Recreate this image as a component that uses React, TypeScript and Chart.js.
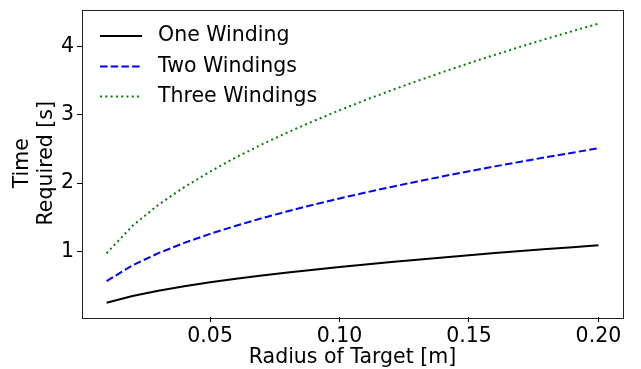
import React, { useEffect, useRef } from "react";
import { Chart, registerables } from "chart.js";

Chart.register(...registerables);

const radii = [0.01, 0.02, 0.03, 0.04, 0.05, 0.06, 0.07, 0.08, 0.09, 0.10, 0.11, 0.12, 0.13, 0.14, 0.15, 0.16, 0.17, 0.18, 0.19, 0.20];
const oneWinding = [0.243, 0.344, 0.421, 0.486, 0.543, 0.595, 0.643, 0.687, 0.729, 0.768, 0.806, 0.842, 0.876, 0.909, 0.941, 0.972, 1.002, 1.031, 1.059, 1.087];
const twoWindings = [0.561, 0.793, 0.971, 1.122, 1.254, 1.374, 1.484, 1.587, 1.683, 1.774, 1.860, 1.943, 2.022, 2.099, 2.172, 2.244, 2.313, 2.380, 2.445, 2.509];
const threeWindings = [0.970, 1.372, 1.680, 1.940, 2.169, 2.376, 2.566, 2.744, 2.910, 3.067, 3.217, 3.360, 3.497, 3.629, 3.757, 3.880, 4.000, 4.116, 4.228, 4.338];
const seriesLabels = ["One Winding", "Two Windings", "Three Windings"];
const xTicks = [0.05, 0.10, 0.15, 0.20];
const yTicks = [1, 2, 3, 4];

const FONT = "'DejaVu Sans', sans-serif";
const FS = 20.5;

const frameAndLegend = {
  id: "frameAndLegend",
  afterDraw(chart: any) {
    const { ctx, chartArea } = chart;
    ctx.save();
    ctx.strokeStyle = "#222";
    ctx.lineWidth = 1;
    ctx.setLineDash([]);
    ctx.strokeRect(
      Math.round(chartArea.left) + 0.5,
      Math.round(chartArea.top) + 0.5,
      Math.round(chartArea.right - chartArea.left),
      Math.round(chartArea.bottom - chartArea.top)
    );
    const rows = [36, 66.5, 96.5];
    chart.data.datasets.forEach((ds: any, i: number) => {
      const y = rows[i];
      ctx.strokeStyle = ds.borderColor;
      ctx.lineWidth = ds.borderWidth;
      ctx.setLineDash(ds.borderDash || []);
      ctx.beginPath();
      ctx.moveTo(100, y);
      ctx.lineTo(142, y);
      ctx.stroke();
      ctx.setLineDash([]);
      ctx.fillStyle = "#000";
      ctx.font = `${FS}px ${FONT}`;
      ctx.textBaseline = "middle";
      ctx.textAlign = "left";
      ctx.fillText(ds.label, 158, y);
    });
    ctx.restore();
  },
};

export default function App() {
  const ref = useRef<HTMLCanvasElement>(null);
  useEffect(() => {
    if (!ref.current) return;
    const mk = (vals: number[]) => radii.map((r, i) => ({ x: r, y: vals[i] }));
    const chart = new Chart(ref.current, {
      type: "line",
      data: {
        datasets: [
          { label: seriesLabels[0], data: mk(oneWinding), borderColor: "#000000", borderWidth: 2, pointRadius: 0, fill: false },
          { label: seriesLabels[1], data: mk(twoWindings), borderColor: "#0000ff", borderWidth: 2, borderDash: [7.5, 3.2], pointRadius: 0, fill: false },
          { label: seriesLabels[2], data: mk(threeWindings), borderColor: "#008000", borderWidth: 2, borderDash: [2, 3.3], pointRadius: 0, fill: false },
        ],
      },
      options: {
        animation: false,
        responsive: false,
        devicePixelRatio: 1,
        layout: { padding: { top: 9.5, right: 18, left: 0, bottom: 0 } },
        plugins: { legend: { display: false }, tooltip: { enabled: false } },
        elements: { line: { tension: 0 } },
        scales: {
          x: {
            type: "linear",
            min: 0.0005,
            max: 0.2095,
            afterFit: (s: any) => { s.height = 52; s.paddingLeft = 0; s.paddingRight = 0; },
            afterBuildTicks: (s: any) => { s.ticks = xTicks.map((v) => ({ value: v })); },
            ticks: {
              color: "#000",
              font: { family: FONT, size: FS },
              padding: 2,
              maxRotation: 0,
              callback: (v: any) => Number(v).toFixed(2),
            },
            grid: { drawOnChartArea: false, drawTicks: true, tickLength: 5, color: "#000", tickWidth: 1 },
            border: { display: false },
            title: {
              display: true,
              text: "Radius of Target [m]",
              color: "#000",
              font: { family: FONT, size: FS, lineHeight: 1.1 },
              padding: { top: 0, bottom: 0 },
            },
          },
          y: {
            type: "linear",
            min: 0.035,
            max: 4.545,
            afterFit: (s: any) => { s.width = 82; s.paddingTop = 0; s.paddingBottom = 0; },
            afterBuildTicks: (s: any) => { s.ticks = yTicks.map((v) => ({ value: v })); },
            ticks: {
              color: "#000",
              font: { family: FONT, size: FS },
              padding: 3,
              callback: (v: any) => String(v),
            },
            grid: { drawOnChartArea: false, drawTicks: true, tickLength: 5, color: "#000", tickWidth: 1 },
            border: { display: false },
            title: {
              display: true,
              text: ["Time", "Required [s]"],
              color: "#000",
              font: { family: FONT, size: FS, lineHeight: 1.15 },
              padding: { top: 11, bottom: 0 },
            },
          },
        },
      },
      plugins: [frameAndLegend],
    } as any);
    return () => chart.destroy();
  }, []);
  return (
    <div style={{ position: "fixed", left: 0, top: 0, width: 641, height: 369, background: "#fff" }}>
      <canvas ref={ref} width={641} height={369} style={{ width: 641, height: 369, display: "block" }} />
    </div>
  );
}
